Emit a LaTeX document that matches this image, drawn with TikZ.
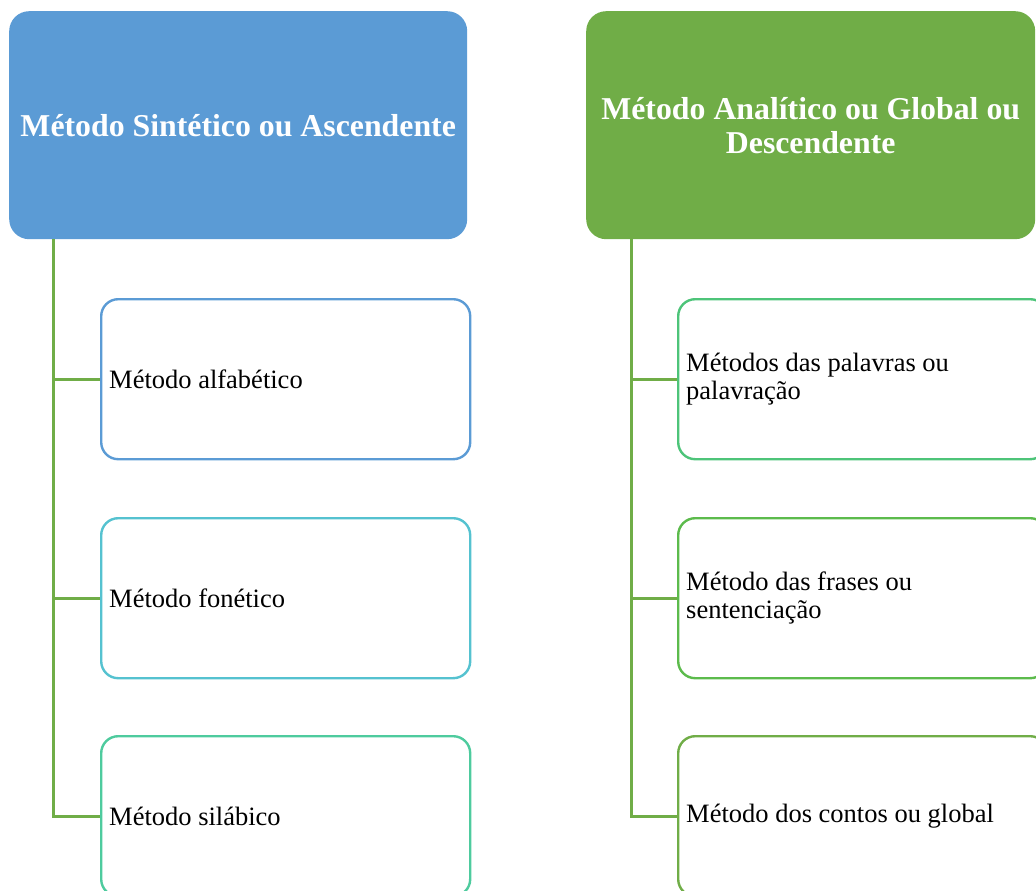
\documentclass[tikz,border=0pt]{standalone}
\usepackage{fontspec}
\setmainfont{Liberation Serif}
\usepackage{tikz}

\definecolor{hblue}{HTML}{5B9BD5}
\definecolor{hgreen}{HTML}{70AD47}
\definecolor{bcyan}{HTML}{55C2D0}
\definecolor{bteal}{HTML}{4ECB9E}
\definecolor{gmint}{HTML}{4DC479}
\definecolor{gleaf}{HTML}{5CBB4C}

\tikzset{
  head/.style={rectangle, rounded corners=20, anchor=north west, text=white,
    font=\fontsize{31.8}{34}\selectfont\bfseries, align=center, inner sep=0},
  leaf/.style={rectangle, rounded corners=17, anchor=north west, draw, line width=2.4pt,
    minimum height=160, text width=353, inner sep=8, align=left,
    font=\fontsize{26.5}{28}\selectfont,
    execute at begin node={\spaceskip=0.25em\relax}},
  conn/.style={draw=hgreen, line width=3pt}
}

\begin{document}
\begin{tikzpicture}[x=1pt, y=-1pt]
  \useasboundingbox (0, 0) rectangle (1036, 891);
  \clip (0, 0) rectangle (1036, 891);

  % left column
  \node[head, fill=hblue, minimum width=458, minimum height=228] (lhead) at (9, 11) {M\'etodo Sint\'etico ou Ascendente};
  \node[leaf, draw=hblue] (lalfa) at (100, 298) {M\'etodo alfab\'etico};
  \node[leaf, draw=bcyan] (lfone) at (100, 517) {M\'etodo fon\'etico};
  \node[leaf, draw=bteal] (lsila) at (100, 735) {M\'etodo sil\'abico};

  % right column
  \node[head, fill=hgreen, minimum width=449, minimum height=228] (rhead) at (586, 11) {M\'etodo Anal\'itico ou Global ou\\Descendente};
  \node[leaf, draw=gmint] (rpala) at (677, 298) {M\'etodos das palavras ou\\palavra\c{c}\~ao};
  \node[leaf, draw=gleaf] (rfras) at (677, 517) {M\'etodo das frases ou\\sentencia\c{c}\~ao};
  \node[leaf, draw=hgreen] (rcont) at (677, 735) {M\'etodo dos contos ou global};

  % trunks
  \draw[conn] (lhead.south west) ++(44, 0) coordinate (lroot);
  \draw[conn] (rhead.south west) ++(45, 0) coordinate (rroot);
  \draw[conn] (lroot) |- (lalfa.west);
  \draw[conn] (lroot) |- (lfone.west);
  \draw[conn] (lroot) |- (lsila.west);
  \draw[conn] (rroot) |- (rpala.west);
  \draw[conn] (rroot) |- (rfras.west);
  \draw[conn] (rroot) |- (rcont.west);
\end{tikzpicture}
\end{document}
